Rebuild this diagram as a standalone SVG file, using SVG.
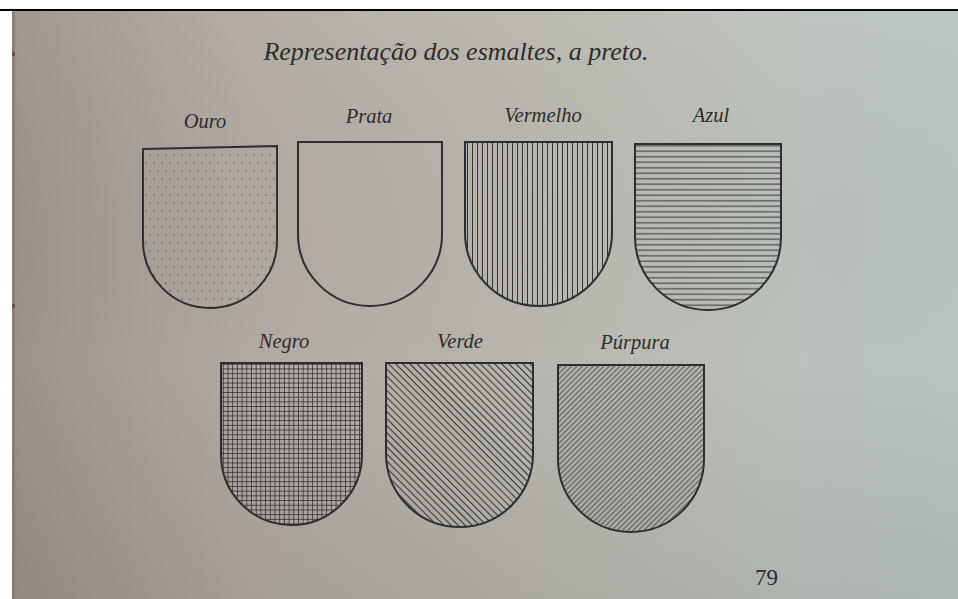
<svg xmlns="http://www.w3.org/2000/svg" width="958" height="599" viewBox="0 0 958 599">
  <defs>
    <linearGradient id="paper" x1="0" y1="0" x2="1" y2="0">
      <stop offset="0" stop-color="#9c928c"/>
      <stop offset="0.25" stop-color="#b0a9a2"/>
      <stop offset="0.55" stop-color="#b8b6ae"/>
      <stop offset="0.8" stop-color="#bbc0ba"/>
      <stop offset="1" stop-color="#b9c3c1"/>
    </linearGradient>
    <linearGradient id="shade" x1="0" y1="0" x2="0" y2="1">
      <stop offset="0" stop-color="#ffffff" stop-opacity="0.05"/>
      <stop offset="0.6" stop-color="#000000" stop-opacity="0"/>
      <stop offset="1" stop-color="#000000" stop-opacity="0.07"/>
    </linearGradient>
    <pattern id="dots" patternUnits="userSpaceOnUse" width="8" height="16">
      <circle cx="2" cy="3" r="0.85" fill="#5a5a58"/>
      <circle cx="6" cy="11" r="0.85" fill="#5a5a58"/>
    </pattern>
    <pattern id="vert" patternUnits="userSpaceOnUse" width="5" height="10">
      <line x1="2.5" y1="0" x2="2.5" y2="10" stroke="#333" stroke-width="1"/>
    </pattern>
    <pattern id="horiz" patternUnits="userSpaceOnUse" width="10" height="5.5">
      <line x1="0" y1="2.75" x2="10" y2="2.75" stroke="#333" stroke-width="1"/>
    </pattern>
    <pattern id="grid" patternUnits="userSpaceOnUse" width="4.7" height="4.7">
      <line x1="2.35" y1="0" x2="2.35" y2="4.7" stroke="#3c3c3c" stroke-width="0.9"/>
      <line x1="0" y1="2.35" x2="4.7" y2="2.35" stroke="#3c3c3c" stroke-width="0.9"/>
    </pattern>
    <pattern id="diagR" patternUnits="userSpaceOnUse" width="10" height="5" patternTransform="rotate(45)">
      <line x1="0" y1="2.5" x2="10" y2="2.5" stroke="#333" stroke-width="1"/>
    </pattern>
    <pattern id="diagL" patternUnits="userSpaceOnUse" width="10" height="3.8" patternTransform="rotate(-45)">
      <line x1="0" y1="1.9" x2="10" y2="1.9" stroke="#333" stroke-width="0.9"/>
    </pattern>
  </defs>
  <style>
    .shield { stroke: #2e2e2e; stroke-width: 2; stroke-linejoin: miter; }
    .label { font-family: "Liberation Serif", "DejaVu Serif", serif; font-style: italic; font-size: 20.5px; fill: #2f2d2b; text-anchor: middle; }
    .title { font-family: "Liberation Serif", "DejaVu Serif", serif; font-style: italic; font-size: 26px; fill: #2f2d2b; text-anchor: middle; }
    .page { font-family: "Liberation Serif", "DejaVu Serif", serif; font-size: 23px; fill: #2f2d2b; }
  </style>

  <rect x="0" y="0" width="958" height="599" fill="#ffffff"/>
  <rect x="12" y="11" width="946" height="588" fill="url(#paper)"/>
  <rect x="12" y="11" width="946" height="588" fill="url(#shade)"/>
  <rect x="12" y="11" width="3" height="588" fill="#7d736d" opacity="0.6"/>
  <rect x="0" y="9" width="958" height="2" fill="#000000"/>
  <rect x="12" y="52" width="3" height="4" fill="#4a403c" opacity="0.7"/>
  <rect x="12" y="304" width="3" height="4" fill="#4a403c" opacity="0.7"/>

  <text class="title" x="456" y="60">Representação dos esmaltes, a preto.</text>

  <g id="ouro">
    <text class="label" x="205" y="128">Ouro</text>
    <path class="shield" fill="url(#dots)" d="M143,149 L277,146 V241 A67,67 0 0 1 143,241 Z"/>
  </g>
  <g id="prata">
    <text class="label" x="369" y="123">Prata</text>
    <path class="shield" fill="none" d="M298,142 H442 V234 A72,72 0 0 1 298,234 Z"/>
  </g>
  <g id="vermelho">
    <text class="label" x="543" y="122">Vermelho</text>
    <path class="shield" fill="url(#vert)" d="M465,142 H612 V232.5 A73.5,73.5 0 0 1 465,232.5 Z"/>
  </g>
  <g id="azul">
    <text class="label" x="711" y="122">Azul</text>
    <path class="shield" fill="url(#horiz)" d="M635,144 H781 V237 A73,73 0 0 1 635,237 Z"/>
  </g>
  <g id="negro">
    <text class="label" x="284" y="348">Negro</text>
    <path class="shield" fill="url(#grid)" d="M221,363 H362 V454.5 A70.5,70.5 0 0 1 221,454.5 Z"/>
  </g>
  <g id="verde">
    <text class="label" x="460" y="348">Verde</text>
    <path class="shield" fill="url(#diagR)" d="M386,363 H533 V453.5 A73.5,73.5 0 0 1 386,453.5 Z"/>
  </g>
  <g id="purpura">
    <text class="label" x="635" y="349">Púrpura</text>
    <path class="shield" fill="url(#diagL)" d="M558,365 H704 V459 A73,73 0 0 1 558,459 Z"/>
  </g>

  <text class="page" x="755" y="585">79</text>
</svg>
